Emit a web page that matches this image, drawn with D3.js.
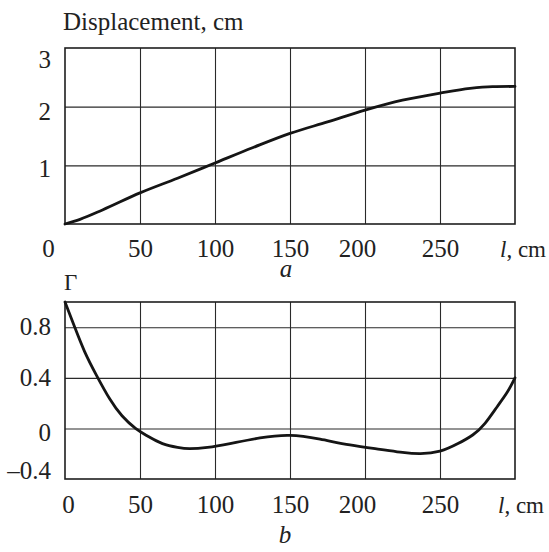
<!DOCTYPE html>
<html>
<head>
<meta charset="utf-8">
<script src="https://cdn.jsdelivr.net/npm/d3@7"></script>
<style>
  html, body { margin: 0; padding: 0; background: #fff; }
  svg { display: block; }
  text { font-family: "Liberation Serif", "Times New Roman", serif; fill: #222; }
</style>
</head>
<body>
<svg id="chart" width="549" height="552"></svg>
<script>
// ---------- data ----------
const xTicks = [0, 50, 100, 150, 200, 250];
const xGrid = [50, 100, 150, 200, 250];

// panel a: displacement vs l
const lDisp = [0, 10, 25, 50, 75, 100, 125, 150, 175, 200, 225, 250, 270, 285, 300];
const displacement = [0, 0.08, 0.24, 0.53, 0.78, 1.04, 1.30, 1.545, 1.74, 1.94, 2.11, 2.23, 2.31, 2.34, 2.345];
const dispTicks = [1, 2, 3];
const dispGrid = [1, 2];

// panel b: reflection coefficient Γ vs l
const lGamma = [0, 6.5, 13, 21, 30, 38, 47, 55, 65, 75, 83, 95, 110, 130, 150, 170, 190, 210, 225, 237, 250, 262, 272, 280, 288, 295, 300];
const gamma = [1.0, 0.8, 0.61, 0.42, 0.23, 0.1, 0, -0.06, -0.12, -0.15, -0.16, -0.15, -0.12, -0.075, -0.055, -0.085, -0.13, -0.165, -0.19, -0.20, -0.18, -0.12, -0.05, 0.04, 0.17, 0.29, 0.4];
const gammaTicks = [-0.4, 0, 0.4, 0.8];
const gammaGrid = [0, 0.4, 0.8];

// ---------- drawing ----------
const svg = d3.select("#chart");
const FS = 25;
const left = 65, right = 515;

function panel(opts) {
  const x = d3.scaleLinear().domain([0, 300]).range([left, right]);
  const y = d3.scaleLinear().domain(opts.yDomain).range([opts.bottom, opts.top]);
  const g = svg.append("g");

  // vertical grid
  g.append("g")
    .attr("transform", `translate(0,${opts.bottom})`)
    .call(d3.axisBottom(x).tickValues(xGrid).tickSize(-(opts.bottom - opts.top)).tickFormat(""))
    .call(s => s.select(".domain").remove())
    .call(s => s.selectAll("line").attr("stroke", "#2a2a2a").attr("stroke-width", 1.1));

  // horizontal grid
  g.append("g")
    .attr("transform", `translate(${left},0)`)
    .call(d3.axisLeft(y).tickValues(opts.yGrid).tickSize(-(right - left)).tickFormat(""))
    .call(s => s.select(".domain").remove())
    .call(s => s.selectAll("line").attr("stroke", "#2a2a2a").attr("stroke-width", 1.1));

  // frame
  g.append("rect")
    .attr("x", left).attr("y", opts.top)
    .attr("width", right - left).attr("height", opts.bottom - opts.top)
    .attr("fill", "none").attr("stroke", "#1e1e1e").attr("stroke-width", 1.6);

  // curve
  const line = d3.line()
    .x((d, i) => x(opts.xs[i]))
    .y(d => y(d))
    .curve(opts.curve);
  g.append("path")
    .datum(opts.ys)
    .attr("d", line)
    .attr("fill", "none")
    .attr("stroke", "#151515")
    .attr("stroke-width", 2.8)
    .attr("stroke-linejoin", "round")
    .attr("stroke-linecap", "round");

  // y tick labels
  const ya = g.append("g")
    .attr("transform", `translate(${left},0)`)
    .call(d3.axisLeft(y).tickValues(opts.yTicks).tickSize(0).tickPadding(14)
      .tickFormat(opts.yFormat));
  ya.select(".domain").remove();
  ya.selectAll("text")
    .attr("font-size", FS)
    .attr("font-family", "Liberation Serif")
    .attr("fill", "#222")
    .attr("dy", d => (opts.yNudge(d) + 0.34 * FS) + "px");

  // x tick labels
  const xa = g.append("g")
    .attr("transform", `translate(0,${opts.bottom})`)
    .call(d3.axisBottom(x).tickValues(xTicks).tickSize(0).tickFormat(d3.format("d")));
  xa.select(".domain").remove();
  xa.selectAll("text")
    .attr("font-size", FS)
    .attr("font-family", "Liberation Serif")
    .attr("fill", "#222")
    .attr("y", opts.xLabelBase)
    .attr("dy", 0)
    .attr("dx", d => opts.xNudge(d));

  // "l, cm" label at the end of x axis
  const t = g.append("text")
    .attr("x", opts.unitX).attr("y", opts.bottom + opts.xLabelBase)
    .attr("font-size", 23);
  t.append("tspan").attr("font-style", "italic").text("l");
  t.append("tspan").text(", cm");

  // panel letter
  g.append("text")
    .attr("x", opts.letterX).attr("y", opts.letterY)
    .attr("text-anchor", "middle")
    .attr("font-size", FS)
    .attr("font-style", "italic")
    .text(opts.letter);

  // axis title
  g.append("text")
    .attr("x", opts.titleX).attr("y", opts.titleY)
    .attr("font-size", opts.titleSize)
    .text(opts.title);
}

panel({
  top: 48, bottom: 224, yDomain: [0, 3],
  xs: lDisp, ys: displacement, curve: d3.curveMonotoneX,
  yTicks: dispTicks, yGrid: dispGrid,
  yFormat: d3.format("d"),
  yNudge: d => (d === 3 ? 11 : d === 2 ? 4 : 3),
  xNudge: d => (d === 0 ? -17 : d === 200 ? -8 : 0),
  xLabelBase: 33,
  unitX: 500,
  letter: "a", letterX: 286, letterY: 277,
  title: "Displacement, cm", titleX: 63, titleY: 30, titleSize: FS
});

panel({
  top: 302, bottom: 479, yDomain: [-0.4, 1.0],
  xs: lGamma, ys: gamma, curve: d3.curveNatural,
  yTicks: gammaTicks, yGrid: gammaGrid,
  yFormat: d => (d < 0 ? "\u2013" + Math.abs(d) : String(d)),
  yNudge: d => (d === -0.4 ? -9 : d === 0 ? 4 : -1),
  xNudge: d => (d === 0 ? 3 : d === 200 ? -8 : 0),
  xLabelBase: 34,
  unitX: 498,
  letter: "b", letterX: 285, letterY: 543,
  title: "\u0393", titleX: 64, titleY: 290, titleSize: 23
});
</script>
</body>
</html>
